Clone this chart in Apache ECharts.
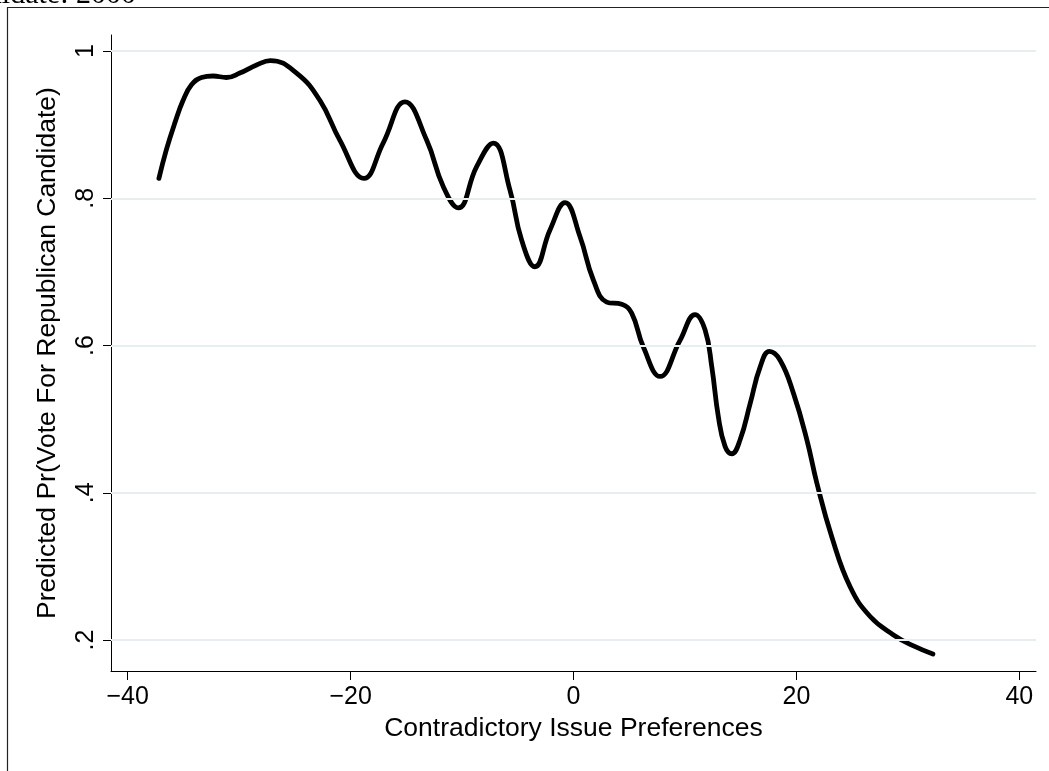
<!DOCTYPE html>
<html>
<head>
<meta charset="utf-8">
<script src="https://cdn.jsdelivr.net/npm/echarts@6/dist/echarts.min.js"></script>
<style>
  html, body { margin: 0; padding: 0; background: #fff; }
  #chart { width: 1049px; height: 771px; }
</style>
</head>
<body>
<div id="chart"></div>
<script>
// values
const issuePrefs = [-37.2, -36.53, -35.78, -35.03, -34.28, -33.38, -32.34, -31.14, -29.94, -28.44, -27.2,
  -24.85, -22.76, -20.97, -18.8, -17.08, -15.13, -13.18, -11.69, -10.34, -8.69, -7.2, -5.7, -4.65,
  -3.46, -2.11, -0.76, 0.58, 1.78, 2.98, 4.33, 5.22, 6.27, 7.77, 9.56, 10.91, 11.81, 12.41, 13.0,
  13.6, 14.2, 14.95, 15.85, 16.75, 17.58, 18.54, 19.74, 20.94, 21.84, 23.18, 24.83, 26.62, 28.71,
  30.51, 32.25];
const predictedPr = [0.827, 0.866, 0.902, 0.933, 0.954, 0.964, 0.966, 0.964, 0.970, 0.981, 0.987,
  0.970, 0.933, 0.879, 0.827, 0.875, 0.931, 0.879, 0.816, 0.787, 0.843, 0.875, 0.811, 0.743,
  0.707, 0.757, 0.794, 0.748, 0.689, 0.659, 0.656, 0.644, 0.598, 0.558, 0.607, 0.642, 0.621, 0.571, 0.503,
  0.463, 0.453, 0.472, 0.521, 0.571, 0.592, 0.580, 0.535, 0.472, 0.413, 0.340, 0.272, 0.232, 0.207,
  0.192, 0.181];
const xTicks = [-40, -20, 0, 20, 40];
const yTicks = [0.2, 0.4, 0.6, 0.8, 1];
const yTickLabels = ['.2', '.4', '.6', '.8', '1'];

const chart = echarts.init(document.getElementById('chart'));

const font = '"Liberation Sans", Arial, sans-serif';

const option = {
  animation: false,
  backgroundColor: '#fff',
  grid: { left: 111, right: 13, top: 35, bottom: 100 },
  graphic: [
    {
      type: 'polyline',
      shape: { points: [[7.5, 771], [7.5, 7.5], [1049, 7.5]] },
      style: { stroke: '#222', lineWidth: 1.2, fill: null },
      silent: true
    },
    {
      type: 'text',
      x: 136,
      y: -5,
      style: {
        text: 'Candidate: 2000',
        font: 'normal 30px "Liberation Serif", "DejaVu Serif", serif',
        fill: '#000',
        align: 'right',
        verticalAlign: 'middle'
      },
      silent: true
    }
  ],
  xAxis: {
    type: 'value',
    min: -41.5,
    max: 41.5,
    name: 'Contradictory Issue Preferences',
    nameLocation: 'middle',
    nameGap: 43,
    nameTextStyle: { fontFamily: font, fontSize: 26.5, color: '#000' },
    axisLine: { show: true, onZero: false, lineStyle: { color: '#000', width: 1 } },
    axisTick: { show: true, length: 9, lineStyle: { color: '#000' }, customValues: xTicks },
    axisLabel: {
      customValues: xTicks,
      fontFamily: font, fontSize: 25, color: '#000', margin: 14,
      formatter: v => (v < 0 ? '\u2212' + Math.abs(v) : String(v))
    },
    splitLine: { show: false }
  },
  yAxis: {
    type: 'value',
    min: 0.158,
    max: 1.0217,
    name: 'Predicted Pr(Vote For Republican Candidate)',
    nameLocation: 'middle',
    nameGap: 50,
    nameTextStyle: { fontFamily: font, fontSize: 26.5, color: '#000' },
    axisLine: { show: true, onZero: false, lineStyle: { color: '#000', width: 1 } },
    axisTick: { show: true, length: 8, lineStyle: { color: '#000' }, customValues: yTicks },
    axisLabel: {
      customValues: yTicks,
      rotate: 90,
      fontFamily: font, fontSize: 25, color: '#000', margin: 12,
      formatter: v => yTickLabels[yTicks.findIndex(t => Math.abs(t - v) < 1e-6)]
    },
    splitLine: { show: false }
  },
  series: [
    {
      type: 'line',
      data: issuePrefs.map((x, i) => [x, predictedPr[i]]),
      smooth: 0.45,
      showSymbol: false,
      lineStyle: { color: '#000', width: 4.8, cap: 'round', join: 'round' },
      z: 3,
      markLine: {
        silent: true,
        symbol: 'none',
        label: { show: false },
        lineStyle: { color: '#e6eef0', width: 1.8, type: 'solid' },
        data: yTicks.map(v => ({ yAxis: v }))
      }
    }
  ]
};

chart.setOption(option);
</script>
</body>
</html>
